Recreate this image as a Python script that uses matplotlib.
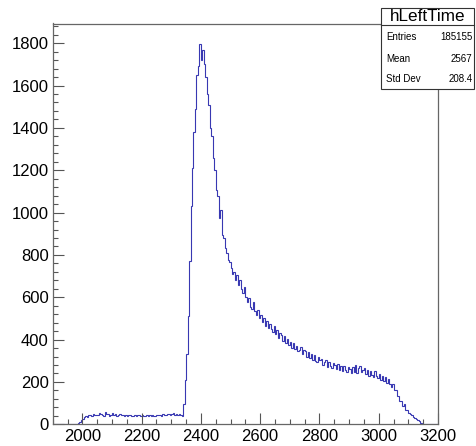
import numpy as np
import matplotlib
matplotlib.use("Agg")
import matplotlib.pyplot as plt
from matplotlib.patches import Rectangle
from matplotlib.ticker import MultipleLocator

# hLeftTime histogram, 5-unit bins from 1900 to 3200
bin_lo = 1900
bin_w = 5
counts = [
    0, 0, 0, 0, 0, 0, 0, 0, 0, 0,                                   # 1900
    0, 0, 0, 0, 0, 0, 2, 6, 12, 19,                                 # 1950
    27, 34, 38, 36, 42, 44, 40, 47, 43, 45,                         # 2000
    44, 54, 48, 46, 41, 56, 47, 49, 39, 46,                         # 2050
    53, 45, 48, 38, 44, 50, 46, 43, 40, 44,                         # 2100
    41, 46, 42, 40, 38, 45, 41, 42, 44, 39,                         # 2150
    43, 41, 40, 44, 38, 42, 39, 46, 41, 40,                         # 2200
    45, 42, 44, 41, 49, 46, 43, 47, 51, 44,                         # 2250
    47, 53, 45, 49, 44, 48, 44, 40, 95, 210,                        # 2300
    330, 510, 770, 1030, 1210, 1380, 1490, 1650, 1690, 1795,        # 2350
    1720, 1770, 1700, 1640, 1560, 1510, 1400, 1360, 1260, 1200,     # 2400
    1105, 1080, 975, 1010, 895, 880, 835, 810, 775, 765,            # 2450
    740, 712, 720, 680, 705, 660, 680, 640, 622, 648,               # 2500
    600, 578, 595, 552, 545, 578, 535, 518, 540, 500,               # 2550
    518, 485, 502, 462, 490, 455, 472, 450, 435, 465,               # 2600
    428, 446, 408, 432, 422, 392, 418, 385, 405, 375,               # 2650
    390, 362, 382, 355, 372, 345, 352, 366, 332, 350,               # 2700
    344, 318, 340, 312, 334, 304, 326, 300, 296, 320,               # 2750
    302, 308, 280, 296, 304, 272, 292, 276, 264, 290,               # 2800
    280, 262, 284, 256, 274, 250, 276, 255, 245, 270,               # 2850
    262, 242, 270, 248, 280, 240, 266, 276, 245, 258,               # 2900
    266, 236, 256, 230, 252, 234, 225, 250, 226, 218,               # 2950
    236, 210, 226, 204, 222, 196, 215, 188, 176, 190,               # 3000
    162, 160, 136, 134, 112, 110, 86, 94, 68, 66,                   # 3050
    55, 48, 42, 35, 30, 24, 18, 14, 8, 3,                           # 3100
    0, 0, 0, 0, 0, 0, 0, 0, 0, 0,                                   # 3150
]
edges = bin_lo + bin_w * np.arange(len(counts) + 1)

stat_names = ["Entries", "Mean", "Std Dev"]
stat_vals = ["185155", "2567", "208.4"]
hist_name = "hLeftTime"

W, H = 476, 446
fig = plt.figure(figsize=(W / 100, H / 100), dpi=100)
plt.rcParams['font.family'] = ['Liberation Sans', 'DejaVu Sans']

def px(x0, y0, x1, y1):
    # pixel box -> figure fraction rect
    return [x0 / W, 1 - y1 / H, (x1 - x0) / W, (y1 - y0) / H]

ax = fig.add_axes(px(52.7, 23.5, 438, 424.3))
ax.stairs(counts, edges, color='#3838b2', lw=0.8)

ax.set_xlim(1900, 3200)
ax.set_ylim(0, 1893)
ax.xaxis.set_major_locator(MultipleLocator(200))
ax.xaxis.set_minor_locator(MultipleLocator(50))
ax.yaxis.set_major_locator(MultipleLocator(200))
ax.yaxis.set_minor_locator(MultipleLocator(40))
ax.tick_params(which='both', direction='in', top=False, right=False,
               color='#555555', width=0.8)
ax.tick_params(which='major', length=7.8, labelsize=12, colors='#555555',
               labelcolor='black')
ax.tick_params(which='minor', length=3.8)
ax.tick_params(axis='x', which='major', pad=3.5)
ax.tick_params(axis='y', which='major', pad=3)
for s in ax.spines.values():
    s.set_color('#666666')
    s.set_linewidth(0.9)

# stats box
r = px(380.7, 8.3, 474, 89)
box = Rectangle(r[:2], r[2], r[3], transform=fig.transFigure,
                facecolor='white', edgecolor='#333333', lw=0.8, zorder=5)
fig.patches.append(box)
fig.add_artist(plt.Line2D([380.7 / W, 474 / W], [1 - 25 / H, 1 - 25 / H],
                          transform=fig.transFigure, color='#333333', lw=0.8,
                          zorder=6))
fig.text((380.7 + 474) / 2 / W, 1 - 16.7 / H, hist_name, ha='center',
         va='center', fontsize=12.3, zorder=7)
rows_y = [37, 59, 79]
for name, val, yy in zip(stat_names, stat_vals, rows_y):
    fig.text(386 / W, 1 - yy / H, name, ha='left', va='center', fontsize=7,
             zorder=7)
    fig.text(472.5 / W, 1 - yy / H, val, ha='right', va='center', fontsize=7,
             zorder=7)

fig.savefig("out.png", dpi=100)
